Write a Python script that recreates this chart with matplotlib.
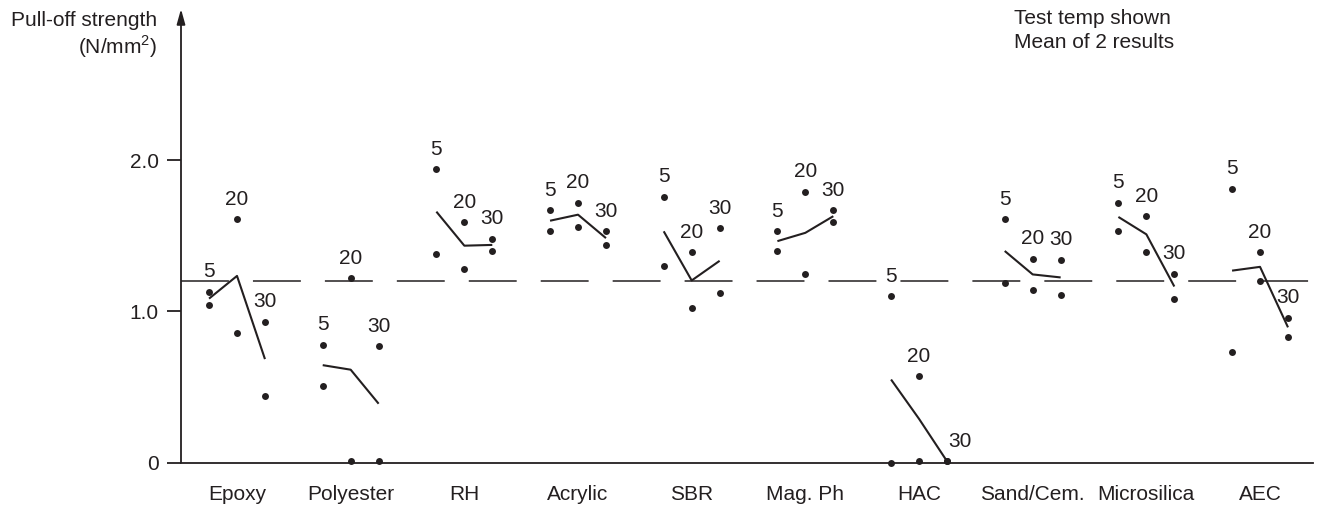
import matplotlib
matplotlib.use("Agg")
import matplotlib.pyplot as plt
import numpy as np

plt.rcParams['font.family'] = ['Liberation Sans', 'DejaVu Sans']
plt.rcParams['mathtext.fontset'] = 'custom'
plt.rcParams['mathtext.rm'] = 'Liberation Sans'
plt.rcParams['lines.scale_dashes'] = False

ink = '#231f20'
fs = 15

# categories and test temperatures
materials = ["Epoxy", "Polyester", "RH", "Acrylic", "SBR", "Mag. Ph",
             "HAC", "Sand/Cem.", "Microsilica", "AEC"]
temps = [5, 20, 30]

# two results per material and temperature (N/mm2), columns = 5, 20, 30 C
result_1 = [
    [1.13, 1.61, 0.93],
    [0.78, 1.22, 0.77],
    [1.94, 1.59, 1.48],
    [1.67, 1.72, 1.53],
    [1.76, 1.39, 1.55],
    [1.53, 1.79, 1.67],
    [1.10, 0.57, 0.01],
    [1.61, 1.35, 1.34],
    [1.72, 1.63, 1.25],
    [1.81, 1.39, 0.96],
]
result_2 = [
    [1.04, 0.86, 0.44],
    [0.51, 0.01, 0.01],
    [1.38, 1.28, 1.40],
    [1.53, 1.56, 1.44],
    [1.30, 1.02, 1.12],
    [1.40, 1.25, 1.59],
    [0.00, 0.01, 0.01],
    [1.19, 1.14, 1.11],
    [1.53, 1.39, 1.08],
    [0.73, 1.20, 0.83],
]
reference_level = 1.2

r1 = np.array(result_1)
r2 = np.array(result_2)
means = (r1 + r2) / 2
upper = np.maximum(r1, r2)

fig = plt.figure(figsize=(13.18, 5.24), dpi=100)
ax = fig.add_axes([181 / 1318, 61.3 / 524, 1132 / 1318, 453.7 / 524])
ax.set_xlim(-0.4927, 9.466)
ax.set_ylim(0, 3.0)

offsets = np.array([-0.246, 0.0, 0.246])

# dashed reference line
ax.axhline(reference_level, color=ink, lw=1.1, dashes=(34.5, 17.3), zorder=1)

for i in range(len(materials)):
    xs = i + offsets
    ax.plot(xs, means[i], color=ink, lw=1.5, solid_capstyle='butt', zorder=2)
    ax.plot(xs, r1[i], 'o', color=ink, ms=5, mec='none', clip_on=False, zorder=3)
    ax.plot(xs, r2[i], 'o', color=ink, ms=5, mec='none', clip_on=False, zorder=3)
    for j, t in enumerate(temps):
        dx = 0
        if materials[i] == "HAC" and t == 30:
            dx = 9
        ax.annotate(str(t), xy=(xs[j], upper[i, j]), xytext=(dx, 14.5),
                    textcoords='offset points', ha='center', va='center',
                    fontsize=fs, color=ink)

# axes styling
for s in ['top', 'right', 'left']:
    ax.spines[s].set_visible(False)
ax.spines['bottom'].set_linewidth(1.3)
ax.spines['bottom'].set_color(ink)
ax.annotate('', xy=(0, 1.0), xycoords='axes fraction', xytext=(0, 0),
            textcoords='axes fraction',
            arrowprops=dict(arrowstyle='-|>,head_length=0.9,head_width=0.25',
                            color=ink, lw=1.3, shrinkA=0, shrinkB=0))

ax.set_yticks([0, 1.0, 2.0])
ax.set_yticklabels(['0', '1.0', '2.0'])
ax.tick_params(axis='y', length=10, width=1.3, color=ink, pad=6,
               labelsize=fs, labelcolor=ink)
ax.set_xticks(range(len(materials)))
ax.set_xticklabels(materials)
ax.tick_params(axis='x', length=0, pad=16, labelsize=fs, labelcolor=ink)

fig.text(157 / 1318, 1 - 20 / 524, 'Pull-off strength', ha='right', va='center',
         fontsize=fs, color=ink)
fig.text(157 / 1318, 1 - 47 / 524, r'(N/mm$^2$)', ha='right', va='center',
         fontsize=fs, color=ink)
fig.text(1014 / 1318, 1 - 19 / 524, 'Test temp shown', ha='left', va='center',
         fontsize=fs, color=ink)
fig.text(1014 / 1318, 1 - 43 / 524, 'Mean of 2 results', ha='left', va='center',
         fontsize=fs, color=ink)

fig.savefig('out.png', dpi=100)
